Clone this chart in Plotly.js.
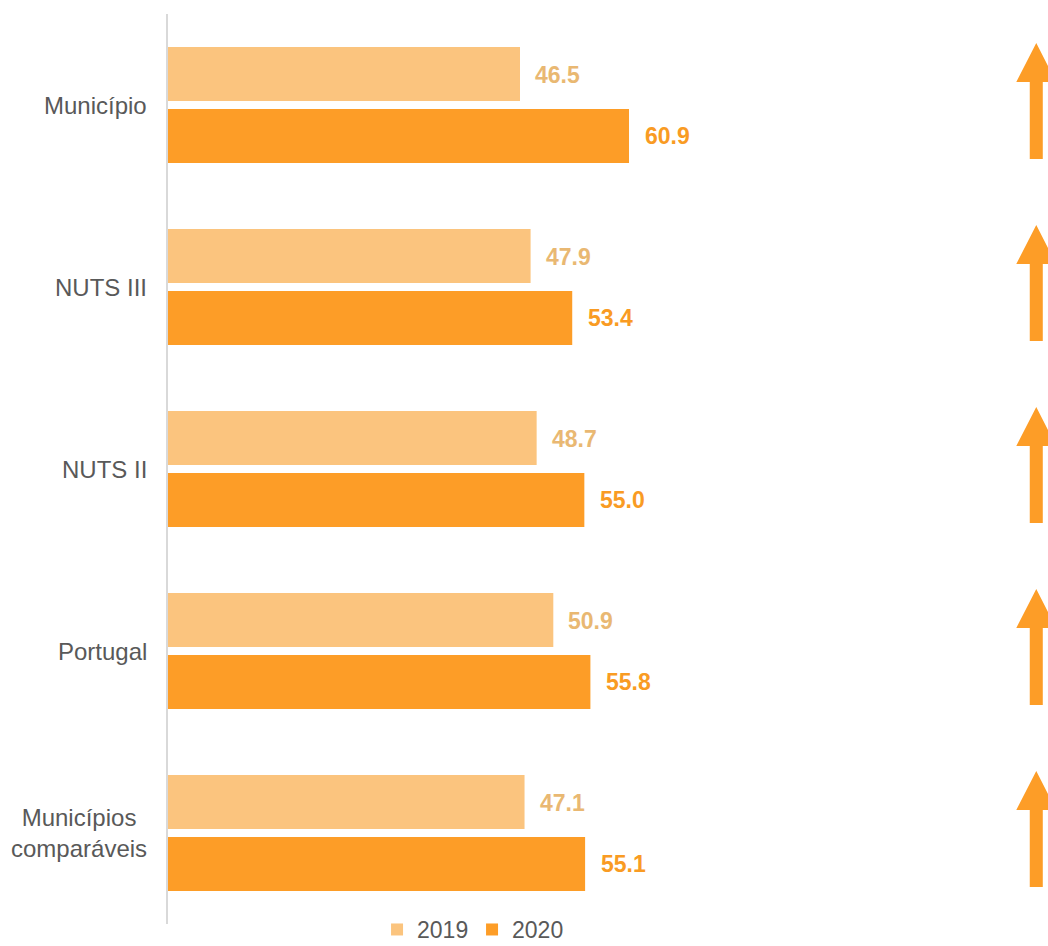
<!DOCTYPE html>
<html>
<head>
<meta charset="utf-8">
<script src="https://cdn.plot.ly/plotly-3.0.1.min.js"></script>
<style>
  html, body { margin: 0; padding: 0; background: #ffffff; }
  #chart { width: 1048px; height: 946px; }
</style>
</head>
<body>
<div id="chart"></div>
<script>
// ---- data ----
const categories = ["Município", "NUTS III", "NUTS II", "Portugal", "Municípios<br>comparáveis"];
const values2019 = [46.5, 47.9, 48.7, 50.9, 47.1];
const values2020 = [60.9, 53.4, 55.0, 55.8, 55.1];
const seriesNames = ["2019", "2020"];

// ---- style ----
const color2019 = "#FBC47E";
const color2020 = "#FD9D27";
const label2019 = "#E9B872";
const label2020 = "#F99B23";
const textGrey = "#595959";
const FONT = "Liberation Sans, Arial, sans-serif";

const idx = categories.map((c, i) => i);

const traces = [
  { type: "bar", orientation: "h", name: seriesNames[0], x: values2019, y: idx,
    marker: { color: color2019 }, hoverinfo: "x" },
  { type: "bar", orientation: "h", name: seriesNames[1], x: values2020, y: idx,
    marker: { color: color2020 }, hoverinfo: "x" }
];

const annotations = [];
// category labels (centered multi-line)
categories.forEach((c, i) => {
  annotations.push({ xref: "paper", yref: "y", x: 0, y: i, xanchor: "right", yanchor: "middle",
    xshift: -19, text: c, showarrow: false, align: "center",
    font: { family: FONT, size: 24, color: textGrey } });
});
// value labels
values2019.forEach((v, i) => {
  annotations.push({ xref: "x", yref: "y", x: v, y: i, xanchor: "left", yanchor: "middle",
    xshift: 13, yshift: 30, text: "<b>" + v.toFixed(1) + "</b>", showarrow: false,
    font: { family: FONT, size: 23, color: label2019 } });
});
values2020.forEach((v, i) => {
  annotations.push({ xref: "x", yref: "y", x: v, y: i, xanchor: "left", yanchor: "middle",
    xshift: 14, yshift: -31, text: "<b>" + v.toFixed(1) + "</b>", showarrow: false,
    font: { family: FONT, size: 23, color: label2020 } });
});

// trend arrows (up when 2020 > 2019)
const arrowX = 114.7, headHalf = 2.64, shaftHalf = 0.86;
const shapes = [];
idx.forEach(i => {
  const up = values2020[i] > values2019[i];
  const tip = up ? i - 0.341 : i + 0.297;
  const base = up ? i - 0.126 : i + 0.082;
  const tail = up ? i + 0.297 : i - 0.341;
  const path = `M ${arrowX} ${tip} L ${arrowX + headHalf} ${base} L ${arrowX + shaftHalf} ${base} ` +
    `L ${arrowX + shaftHalf} ${tail} L ${arrowX - shaftHalf} ${tail} L ${arrowX - shaftHalf} ${base} ` +
    `L ${arrowX - headHalf} ${base} Z`;
  shapes.push({ type: "path", xref: "x", yref: "y", path: path,
    fillcolor: color2020, line: { width: 0 } });
});

const layout = {
  width: 1048, height: 946,
  margin: { l: 168, r: 0, t: 14, b: 22, autoexpand: false },
  paper_bgcolor: "#ffffff", plot_bgcolor: "#ffffff",
  barmode: "group", bargap: 0.319, bargroupgap: 0.129,
  font: { family: FONT, size: 23, color: textGrey },
  xaxis: { range: [0, 116.25], showgrid: false, zeroline: false, showline: false,
    showticklabels: false, ticks: "", fixedrange: true },
  yaxis: { range: [4.5, -0.5], tickvals: idx, showticklabels: false, ticks: "",
    showgrid: false, zeroline: false, showline: true, linecolor: "#D9D9D9", linewidth: 2,
    fixedrange: true },
  showlegend: true,
  legend: { orientation: "h", x: 0.3455, xanchor: "center", y: -0.0297, yanchor: "bottom",
    bgcolor: "rgba(0,0,0,0)", font: { family: FONT, size: 23, color: textGrey },
    itemwidth: 30, entrywidth: 50, traceorder: "normal" },
  annotations: annotations,
  shapes: shapes
};

Plotly.newPlot("chart", traces, layout, { displayModeBar: false, staticPlot: true });
</script>
</body>
</html>
